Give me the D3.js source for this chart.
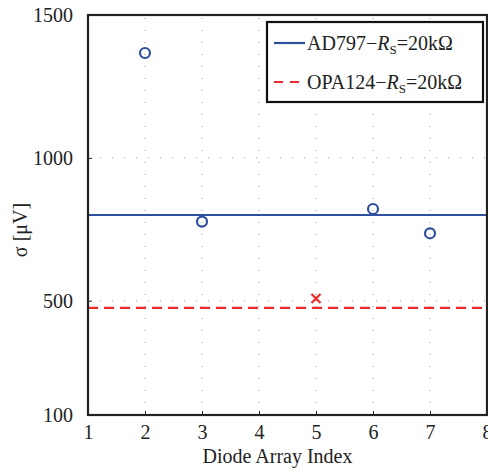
<!DOCTYPE html>
<html><head><meta charset="utf-8">
<script src="https://cdn.jsdelivr.net/npm/d3@7"></script>
<style>body{margin:0;background:#fff;} svg{display:block;} text{font-family:"Liberation Serif","Times New Roman",serif;fill:#222;}</style>
</head><body><svg id="c" width="488" height="472"></svg>
<script>
const xTicks = [1,2,3,4,5,6,7,8];
const yTicks = [100,500,1000,1500];
const adX = [2,3,6,7];
const adY = [1367,777,821,736];
const opaX = [5];
const opaY = [508];
const adMean = 800;
const opaMean = 475;
const legendLabels = ["AD797", "OPA124"];

const svg = d3.select("#c");
const m = {l:88, r:1, t:15, b:57};
const W = 488, H = 472;
const FS = 20;
const x = d3.scaleLinear().domain([1,8]).range([m.l, W - m.r]);
const y = d3.scaleLinear().domain([100,1500]).range([H - m.b, m.t]);
const blue = "#2f4f9f", red = "#ee2a2a";

// grid
const g = svg.append("g");
g.selectAll("line.vg").data(xTicks.slice(1,-1)).enter().append("line")
  .attr("x1", d=>x(d)).attr("x2", d=>x(d)).attr("y1", y(100)).attr("y2", y(1500))
  .attr("stroke", "#999").attr("stroke-width", 1).attr("stroke-dasharray", "1,11");
g.selectAll("line.hg").data([500,1000]).enter().append("line")
  .attr("x1", x(1)).attr("x2", x(8)).attr("y1", d=>y(d)).attr("y2", d=>y(d))
  .attr("stroke", "#999").attr("stroke-width", 1).attr("stroke-dasharray", "1,11");

// mean lines
svg.append("line").attr("x1", x(1)).attr("x2", x(8)).attr("y1", y(adMean)).attr("y2", y(adMean))
  .attr("stroke", blue).attr("stroke-width", 2.2);
svg.append("line").attr("x1", x(1)).attr("x2", x(8)).attr("y1", y(opaMean)).attr("y2", y(opaMean))
  .attr("stroke", red).attr("stroke-width", 2.2).attr("stroke-dasharray", "10,6");

// points
svg.selectAll("circle.ad").data(adX.map((d,i)=>[d,adY[i]])).enter().append("circle")
  .attr("cx", d=>x(d[0])).attr("cy", d=>y(d[1])).attr("r", 5)
  .attr("fill", "none").attr("stroke", blue).attr("stroke-width", 2.2);
const s = 4.5;
svg.selectAll("path.opa").data(opaX.map((d,i)=>[d,opaY[i]])).enter().append("path")
  .attr("d", d=>{const cx=x(d[0]), cy=y(d[1]); return `M${cx-s},${cy-s}L${cx+s},${cy+s}M${cx-s},${cy+s}L${cx+s},${cy-s}`;})
  .attr("stroke", red).attr("stroke-width", 2.2).attr("fill","none");

// axes
const xAxis = d3.axisBottom(x).tickValues(xTicks).tickSize(-4).tickPadding(10).tickFormat(d3.format("d"));
const yAxis = d3.axisLeft(y).tickValues(yTicks).tickSize(-4).tickPadding(15).tickFormat(d3.format("d"));
const xa = svg.append("g").attr("transform", `translate(0,${y(100)})`).call(xAxis);
const ya = svg.append("g").attr("transform", `translate(${x(1)},0)`).call(yAxis);
[xa, ya].forEach(a => {
  a.select(".domain").remove();
  a.selectAll(".tick line").attr("stroke", "#222").attr("stroke-width", 1);
  a.selectAll("text").attr("font-size", FS).style("font-family", '"Liberation Serif",serif').attr("fill", "#222");
});
xa.selectAll("text").attr("dy", "0.71em");
// frame
svg.append("rect").attr("x", x(1)).attr("y", y(1500)).attr("width", x(8)-x(1)).attr("height", y(100)-y(1500))
  .attr("fill","none").attr("stroke","#222").attr("stroke-width", 2.2);

// labels
svg.append("text").attr("x", (x(1)+x(8))/2 - 10).attr("y", 463).attr("text-anchor","middle")
  .attr("font-size", FS).text("Diode Array Index");
svg.append("text").attr("transform", `translate(27,${(y(100)+y(1500))/2 + 15}) rotate(-90)`)
  .attr("text-anchor","middle").attr("font-size", FS).text("σ [μV]");

// legend
const lg = svg.append("g");
lg.append("rect").attr("x", 267).attr("y", 22).attr("width", 216).attr("height", 80)
  .attr("fill","#fff").attr("stroke","#111").attr("stroke-width", 2.2);
const entries = [{c:blue, dash:null, y:43, name:legendLabels[0]},{c:red, dash:"9,7", y:82, name:legendLabels[1]}];
entries.forEach(e => {
  lg.append("line").attr("x1", 274).attr("x2", 305).attr("y1", e.y).attr("y2", e.y)
    .attr("stroke", e.c).attr("stroke-width", 2.2).attr("stroke-dasharray", e.dash);
  const t = lg.append("text").attr("x", 307).attr("y", e.y + 7).attr("font-size", FS);
  t.append("tspan").text(e.name + "−");
  t.append("tspan").attr("font-style","italic").text("R");
  t.append("tspan").attr("font-size", 13).attr("dy", 4).text("S");
  t.append("tspan").attr("dy", -4).text("=20kΩ");
});
</script></body></html>
